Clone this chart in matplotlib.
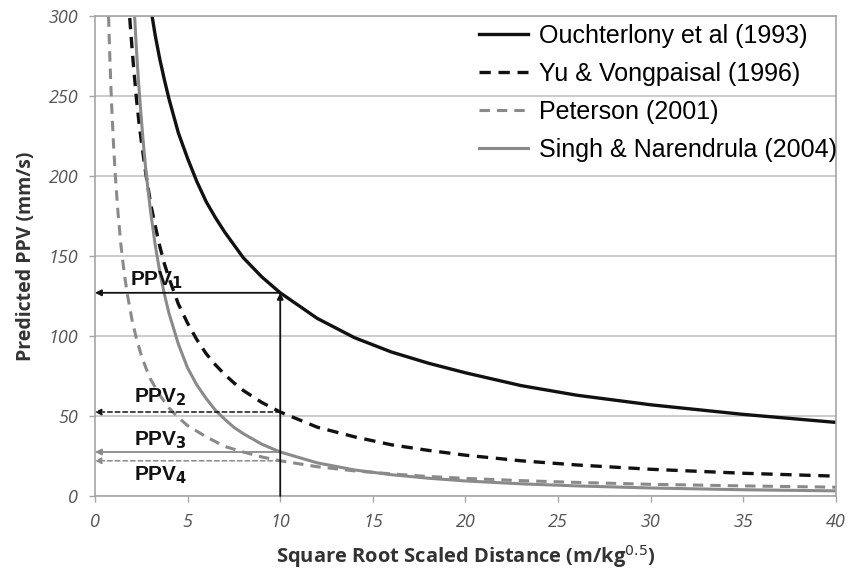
#!/usr/bin/env python

import matplotlib
matplotlib.use("Agg")
import matplotlib.pyplot as plt

# Curves: scaled distance (m/kg^0.5) vs predicted PPV (mm/s)
ouch_sd = [3, 3.25, 3.5, 3.75, 4, 4.5, 5, 5.5, 6, 6.5, 7, 7.5, 8, 9, 10, 12,
           14, 16, 18, 20, 23, 26, 30, 35, 40]
ouch_ppv = [306, 288, 273, 260, 248, 227, 211, 196.5, 184, 174, 165, 157, 149,
            137, 127, 111, 99, 90, 83, 77, 69, 63, 57, 51, 46]

yu_sd = [1.8, 1.9, 2, 2.1, 2.25, 2.4, 2.5, 2.75, 3, 3.25, 3.5, 3.75, 4, 4.5,
         5, 5.5, 6, 6.5, 7, 7.5, 8, 9, 10, 12, 14, 16, 18, 20, 23, 26, 30,
         35, 40]
yu_ppv = [312, 295, 280, 266, 247, 231, 222, 201, 183, 169, 156, 145, 136,
          120, 108, 97.7, 89, 82, 76, 70.7, 66, 58.5, 52.5, 43, 37, 32, 28.5,
          25.5, 22, 19.4, 16.7, 14.2, 12.4]

pet_sd = [0.7, 0.75, 0.8, 0.85, 0.9, 1, 1.1, 1.25, 1.4, 1.5, 1.6, 1.75, 2,
          2.25, 2.5, 2.75, 3, 3.5, 4, 4.5, 5, 6, 7, 8, 9, 10, 12, 14, 16, 18,
          20, 23, 26, 30, 35, 40]
pet_ppv = [314, 293, 275, 259, 244, 220, 200, 176, 157, 147, 137.5, 126, 110,
           97.8, 88, 80, 73, 63, 55, 49, 44, 37, 31, 27.5, 24.4, 22, 18.3,
           15.7, 13.8, 12.2, 11, 9.6, 8.5, 7.3, 6.3, 5.5]

singh_sd = [2.1, 2.2, 2.25, 2.35, 2.5, 2.6, 2.75, 3, 3.25, 3.5, 3.75, 4, 4.5,
            5, 5.5, 6, 6.5, 7, 7.5, 8, 9, 10, 12, 14, 16, 18, 20, 23, 26, 30,
            35, 40]
singh_ppv = [309, 287, 277, 259, 236, 222, 203, 178, 157, 140, 126, 114, 95,
             80, 69.4, 61, 53.6, 48, 42.9, 39, 32.4, 27.5, 20.7, 16.3, 13.3,
             11.1, 9.4, 7.6, 6.3, 5.0, 3.9, 3.2]

# Read-off values at the marked scaled distance
marker_sd = 10
marker_ppv = [127, 52.5, 27.5, 22]
marker_labels = ["PPV$_\\mathbf{1}$", "PPV$_\\mathbf{2}$",
                 "PPV$_\\mathbf{3}$", "PPV$_\\mathbf{4}$"]
label_sd = [1.9, 2.1, 2.1, 2.1]
label_ppv = [135, 62, 35, 13]

x_ticks = list(range(0, 41, 5))
y_ticks = list(range(0, 301, 50))

BLACK = "#111111"
GREY = "#8a8a8a"


def main() -> None:
    fig = plt.figure(figsize=(8.51, 5.73), dpi=100)
    ax = fig.add_axes([0.1116, 0.1344, 0.8708, 0.8376])

    ax.plot(ouch_sd, ouch_ppv, color=BLACK, lw=2.4,
            label="Ouchterlony et al (1993)")
    ax.plot(yu_sd, yu_ppv, color=BLACK, lw=2.4, ls=(0, (3.4, 2.3)),
            label="Yu & Vongpaisal (1996)")
    ax.plot(pet_sd, pet_ppv, color=GREY, lw=2.2, ls=(0, (3.4, 2.3)),
            label="Peterson (2001)")
    ax.plot(singh_sd, singh_ppv, color=GREY, lw=2.2,
            label="Singh & Narendrula (2004)")

    # Read-off arrows at SD = 10
    arrow_styles = [
        dict(color=BLACK, ls="-", lw=1.3),
        dict(color=BLACK, ls=(0, (3, 2)), lw=1.1),
        dict(color=GREY, ls="-", lw=1.3),
        dict(color=GREY, ls=(0, (3, 2)), lw=1.1),
    ]
    for ppv, style in zip(marker_ppv, arrow_styles):
        ax.annotate("", xy=(0, ppv), xytext=(marker_sd, ppv),
                    arrowprops=dict(arrowstyle="-|>", mutation_scale=9,
                                    shrinkA=0, shrinkB=0, **style),
                    annotation_clip=False)
    ax.annotate("", xy=(marker_sd, marker_ppv[0]), xytext=(marker_sd, 0),
                arrowprops=dict(arrowstyle="-|>", mutation_scale=9,
                                shrinkA=0, shrinkB=0, color=BLACK, lw=1.3))

    for text, sd, ppv in zip(marker_labels, label_sd, label_ppv):
        ax.text(sd, ppv, text, fontsize=15, fontweight="bold",
                family="Liberation Sans", va="center", ha="left", color=BLACK)

    ax.set_xlim(0, 40)
    ax.set_ylim(0, 300)
    ax.set_xticks(x_ticks)
    ax.set_yticks(y_ticks)
    ax.grid(axis="y", color="#c4c4c4", lw=1.2)
    ax.set_axisbelow(True)
    for side in ax.spines.values():
        side.set_color("#a6a6a6")
        side.set_linewidth(1.2)

    ax.tick_params(axis="both", colors="#a6a6a6", length=4, width=1.0,
                   labelcolor="#555555", labelsize=13, pad=8)
    for lab in ax.get_xticklabels() + ax.get_yticklabels():
        lab.set_fontstyle("italic")
        lab.set_family("Open Sans")

    ax.set_xlabel("Square Root Scaled Distance (m/kg$^{0.5}$)", fontsize=14.5,
                  fontweight="bold", family="Open Sans", color="#333333",
                  labelpad=9)
    ax.set_ylabel("Predicted PPV (mm/s)", fontsize=14, fontweight="bold",
                  family="Open Sans", color="#333333", labelpad=9)

    ax.legend(loc="upper right", bbox_to_anchor=(1.011, 1.0), frameon=False,
              prop={"family": "Liberation Sans", "size": 18},
              handlelength=1.96, handletextpad=0.44, labelspacing=0.56,
              borderaxespad=0.1, borderpad=0.2)

    fig.savefig("out.png", dpi=100)


if __name__ == "__main__":
    main()
